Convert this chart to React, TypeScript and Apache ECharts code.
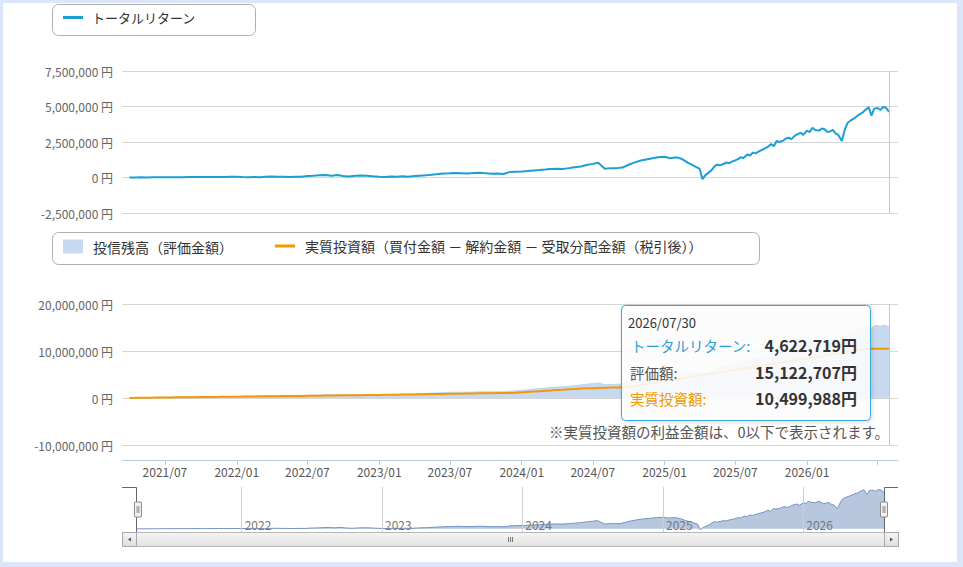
import React, { useEffect, useRef } from 'react';
import * as echarts from 'echarts';

const dates = [
  '2021-04-01','2021-04-15','2021-05-01','2021-05-15','2021-06-01','2021-06-15','2021-07-01','2021-07-15','2021-08-01','2021-08-15','2021-09-01','2021-09-15','2021-10-01','2021-10-15','2021-11-01','2021-11-15','2021-12-01','2021-12-15',
  '2022-01-01','2022-01-15','2022-02-01','2022-02-15','2022-03-01','2022-03-15','2022-04-01','2022-04-15','2022-05-01','2022-05-15','2022-06-01','2022-06-15','2022-07-01','2022-07-15','2022-08-01','2022-08-15','2022-09-01','2022-09-15','2022-10-01','2022-10-15','2022-11-01','2022-11-15','2022-12-01','2022-12-15',
  '2023-01-01','2023-01-15','2023-02-01','2023-02-15','2023-03-01','2023-03-15','2023-04-01','2023-04-15','2023-05-01','2023-05-15','2023-06-01','2023-06-15','2023-07-01','2023-07-15','2023-08-01','2023-08-15','2023-09-01','2023-09-15','2023-10-01','2023-10-15','2023-11-01','2023-11-15','2023-12-01','2023-12-15',
  '2024-01-01','2024-01-15','2024-02-01','2024-02-15','2024-03-01','2024-03-15','2024-04-01','2024-04-15','2024-05-01','2024-05-15','2024-06-01','2024-06-15','2024-07-01','2024-07-15','2024-08-01','2024-08-15','2024-09-01','2024-09-15','2024-10-01','2024-10-15','2024-11-01','2024-11-15','2024-12-01','2024-12-15',
  '2025-01-01','2025-01-15','2025-02-01','2025-02-15','2025-03-01','2025-03-15','2025-04-01','2025-04-08','2025-04-15',
  '2025-05-01','2025-05-08','2025-05-15','2025-05-22','2025-06-01','2025-06-08','2025-06-15','2025-06-22','2025-07-01','2025-07-08','2025-07-15','2025-07-22','2025-08-01','2025-08-08','2025-08-15','2025-08-22',
  '2025-09-01','2025-09-08','2025-09-15','2025-09-22','2025-10-01','2025-10-08','2025-10-15','2025-10-22','2025-11-01','2025-11-08','2025-11-15','2025-11-22','2025-12-01','2025-12-08','2025-12-15','2025-12-22',
  '2026-01-01','2026-01-08','2026-01-15','2026-01-22','2026-02-01','2026-02-08','2026-02-15','2026-02-22','2026-03-01','2026-03-08','2026-03-15','2026-03-22','2026-03-31',
  '2026-04-08','2026-04-15','2026-04-22','2026-05-01','2026-05-08','2026-05-15','2026-05-22','2026-06-01','2026-06-08','2026-06-15','2026-06-22','2026-07-01','2026-07-08','2026-07-15','2026-07-22','2026-07-30'
];

// トータルリターン (百万円)
const totalReturnM = [
  0, 0.005, 0.01, 0.008, 0.015, 0.02, 0.018, 0.022, 0.025, 0.02, 0.03, 0.035, 0.028, 0.032, 0.04, 0.038, 0.035, 0.045,
  0.05, 0.03, 0.02, 0.03, 0.025, 0.05, 0.07, 0.06, 0.05, 0.04, 0.06, 0.05, 0.1, 0.12, 0.15, 0.17, 0.13, 0.18, 0.1, 0.07, 0.12, 0.14, 0.12, 0.08,
  0.05, 0.04, 0.07, 0.05, 0.08, 0.06, 0.1, 0.13, 0.15, 0.2, 0.24, 0.28, 0.3, 0.32, 0.3, 0.28, 0.31, 0.33, 0.3, 0.27, 0.29, 0.25, 0.38, 0.4,
  0.42, 0.45, 0.5, 0.52, 0.56, 0.6, 0.62, 0.6, 0.66, 0.72, 0.78, 0.88, 0.96, 1.04, 0.62, 0.66, 0.66, 0.7, 0.9, 1.05, 1.2, 1.27, 1.35, 1.42,
  1.46, 1.36, 1.42, 1.3, 1.05, 0.85, 0.6, -0.12, 0.15,
  0.5, 0.75, 0.92, 0.85, 0.95, 1.05, 1.0, 1.12, 1.2, 1.3, 1.42, 1.38, 1.62, 1.55, 1.75, 1.7,
  1.85, 1.95, 2.05, 2.15, 2.35, 2.2, 2.57, 2.5, 2.6, 2.75, 2.8, 2.7, 2.95, 3.05, 3.15, 3.0,
  3.3, 3.2, 3.5, 3.35, 3.3, 3.45, 3.4, 3.2, 3.25, 3.35, 3.1, 3.0, 2.57,
  3.4, 3.85, 4.0, 4.15, 4.3, 4.45, 4.55, 4.8, 4.95, 4.35, 4.85, 4.9, 4.75, 4.97, 4.92, 4.622719
];

// 実質投資額 (百万円)
const investedM = [
  0.02, 0.03, 0.05, 0.07, 0.08, 0.1, 0.11, 0.12, 0.14, 0.15, 0.17, 0.18, 0.2, 0.21, 0.23, 0.24, 0.26, 0.27,
  0.29, 0.3, 0.32, 0.33, 0.35, 0.36, 0.38, 0.39, 0.41, 0.42, 0.44, 0.45, 0.47, 0.48, 0.5, 0.51, 0.53, 0.54, 0.56, 0.57, 0.59, 0.6, 0.62, 0.63,
  0.65, 0.67, 0.69, 0.71, 0.73, 0.75, 0.77, 0.79, 0.81, 0.83, 0.85, 0.87, 0.89, 0.91, 0.93, 0.95, 0.97, 0.99, 1.01, 1.03, 1.05, 1.07, 1.09, 1.11,
  1.2, 1.3, 1.4, 1.45, 1.55, 1.6, 1.7, 1.75, 1.85, 1.9, 2.0, 2.05, 2.1, 2.15, 2.2, 2.22, 2.26, 2.28, 2.3, 2.5, 2.75, 2.95, 3.15, 3.35,
  3.6, 3.8, 4.0, 4.2, 4.4, 4.6, 4.8, 4.85, 5.0,
  5.2, 5.3, 5.4, 5.5, 5.6, 5.7, 5.8, 5.9, 6.0, 6.1, 6.2, 6.3, 6.4, 6.5, 6.6, 6.7,
  6.8, 6.9, 7.0, 7.1, 7.2, 7.3, 7.4, 7.5, 7.6, 7.7, 7.8, 7.9, 8.0, 8.1, 8.2, 8.3,
  8.4, 8.5, 8.6, 8.7, 8.8, 8.9, 9.0, 9.1, 9.2, 9.3, 9.4, 9.5, 9.6,
  9.7, 9.8, 9.9, 10.0, 10.1, 10.2, 10.3, 10.4, 10.45, 10.5, 10.5, 10.5, 10.5, 10.5, 10.5, 10.499988
];

const topYTicks = { min: -2500000, max: 7500000, interval: 2500000 };
const bottomYTicks = { min: -10000000, max: 20000000, interval: 10000000 };
const axisRange = { min: '2021-03-13', max: '2026-08-22' };

const NAME_RETURN = 'トータルリターン';
const NAME_VALUE = '投信残高（評価金額）';
const NAME_INVEST = '実質投資額（買付金額 － 解約金額 － 受取分配金額（税引後））';
const NOTE = '※実質投資額の利益金額は、0以下で表示されます。';

const FONT = '"Noto Sans CJK JP", "Noto Sans", sans-serif';
const BLUE = '#1a9fd5';
const ORANGE = '#f39800';
const AREA = '#c6d9f1';
const DAY = 24 * 3600 * 1000;

function toTs(s: string) {
  const [y, m, d] = s.split('-').map(Number);
  return new Date(y, m - 1, d).getTime();
}
function yen(v: number) {
  return v.toLocaleString('en-US');
}

function buildOption() {
  const ret = totalReturnM.map((v) => Math.round(v * 1e6));
  const inv = investedM.map((v) => Math.round(v * 1e6));
  const val = ret.map((r, i) => r + inv[i]);
  const retData = dates.map((d, i) => [d, ret[i]]);
  const invData = dates.map((d, i) => [d, inv[i]]);
  const valData = dates.map((d, i) => [d, val[i]]);
  const n = dates.length - 1;
  const lastDate = dates[n];
  const lastTs = toTs(lastDate);

  const crossLine = {
    silent: true,
    symbol: 'none',
    label: { show: false },
    lineStyle: { color: '#c8c8c8', type: 'solid', width: 1 },
    emphasis: { disabled: true },
    data: [{ xAxis: lastDate }],
  };

  const yLabel = {
    color: '#666',
    fontSize: 12,
    margin: 9,
    formatter: (v: number) => yen(v) + ' 円',
  };
  const split = { show: true, lineStyle: { color: '#d6d6d6', width: 1 } };

  const gradient = (a: string, b: string) =>
    new echarts.graphic.LinearGradient(0, 0, 0, 1, [
      { offset: 0, color: a },
      { offset: 1, color: b },
    ]);

  const txt = (text: string, x: number, y: number, fill: string, size: number, align = 'left', weight = 'normal') => ({
    type: 'text',
    x,
    y,
    z: 60,
    silent: true,
    style: {
      text,
      fill,
      fontSize: size,
      fontFamily: FONT,
      fontWeight: weight,
      align,
      verticalAlign: 'middle',
    },
  });

  return {
    animation: false,
    backgroundColor: '#dce6fa',
    textStyle: { fontFamily: FONT },
    grid: [
      { left: 122, right: 65, top: 71, height: 142 },
      { left: 122, right: 65, top: 304, height: 141 },
      { left: 136, right: 79, top: 487, height: 45 },
    ],
    legend: [
      {
        left: 63, top: 11, padding: 0, itemWidth: 20, itemHeight: 3, icon: 'rect', selectedMode: false,
        data: [{ name: NAME_RETURN, itemStyle: { color: BLUE } }],
        textStyle: { fontSize: 13, color: '#333', padding: [0, 0, 0, 4] },
      },
      {
        left: 63, top: 239.5, padding: 0, itemWidth: 20, itemHeight: 14, icon: 'rect', selectedMode: false,
        data: [{ name: NAME_VALUE, itemStyle: { color: AREA } }],
        textStyle: { fontSize: 14, color: '#333', padding: [0, 0, 0, 5] },
      },
      {
        left: 275, top: 239, padding: 0, itemWidth: 20, itemHeight: 3, icon: 'rect', selectedMode: false,
        data: [{ name: NAME_INVEST, itemStyle: { color: ORANGE } }],
        textStyle: { fontSize: 14, color: '#333', padding: [0, 0, 0, 5] },
      },
    ],
    xAxis: [
      {
        type: 'time', gridIndex: 0, min: axisRange.min, max: axisRange.max,
        axisLine: { show: false }, axisTick: { show: false }, axisLabel: { show: false }, splitLine: { show: false },
      },
      {
        type: 'time', gridIndex: 1, min: axisRange.min, max: axisRange.max, offset: 15,
        minInterval: 181 * DAY, maxInterval: 184 * DAY,
        axisLine: { show: true, onZero: false, lineStyle: { color: '#b9cbe0' } },
        axisTick: { show: true, length: 5, lineStyle: { color: '#b9cbe0' } },
        splitLine: { show: false },
        axisLabel: {
          color: '#555', fontSize: 12, margin: 5, hideOverlap: false,
          formatter: (v: number) => {
            if (v + 40 * DAY > lastTs) return '';
            const d = new Date(v);
            const m = d.getMonth() + 1;
            return d.getFullYear() + '/' + (m < 10 ? '0' + m : m);
          },
        },
      },
      {
        type: 'time', gridIndex: 2, min: dates[0], max: lastDate, z: 10,
        minInterval: 365 * DAY, maxInterval: 366 * DAY,
        axisLine: { show: false, onZero: false }, axisTick: { show: false },
        splitLine: { show: true, lineStyle: { color: '#cfcfcf', width: 1 } },
        axisLabel: {
          inside: true, color: '#777', fontSize: 12, align: 'left', margin: 2, padding: [0, 0, 0, 3],
          formatter: (v: number) => String(new Date(v).getFullYear()),
        },
      },
    ],
    yAxis: [
      {
        type: 'value', gridIndex: 0, ...topYTicks,
        axisLine: { show: false }, axisTick: { show: false }, axisLabel: yLabel, splitLine: split,
      },
      {
        type: 'value', gridIndex: 1, ...bottomYTicks,
        axisLine: { show: false }, axisTick: { show: false }, axisLabel: yLabel, splitLine: split,
      },
      { type: 'value', gridIndex: 2, min: -400000, max: 5300000, show: false, splitLine: { show: false } },
    ],
    dataZoom: [
      {
        type: 'slider', xAxisIndex: [0, 1], filterMode: 'none', start: 0, end: 100,
        left: 136, right: 79, top: 487, height: 45, z: 40,
        showDataShadow: false, showDetail: false, brushSelect: false, moveHandleSize: 0,
        backgroundColor: 'rgba(0,0,0,0)', fillerColor: 'rgba(0,0,0,0)', borderColor: 'rgba(0,0,0,0)',
        handleIcon: 'path://M1,0 H6 Q7,0 7,1 V14 Q7,15 6,15 H1 Q0,15 0,14 V1 Q0,0 1,0 Z M2.6,4 V11 M4.4,4 V11',
        handleSize: 15,
        handleStyle: { color: '#f2f2f2', borderColor: '#888', borderWidth: 1 },
        emphasis: { handleStyle: { color: '#f2f2f2', borderColor: '#888' } },
      },
    ],
    series: [
      {
        name: NAME_RETURN, type: 'line', xAxisIndex: 0, yAxisIndex: 0, data: retData,
        symbol: 'none', color: BLUE, lineStyle: { color: BLUE, width: 2 }, markLine: crossLine,
      },
      {
        name: NAME_VALUE, type: 'line', xAxisIndex: 1, yAxisIndex: 1, data: valData,
        symbol: 'none', color: AREA, lineStyle: { color: '#bcd3ef', width: 1 },
        areaStyle: { color: AREA, opacity: 1 }, markLine: crossLine,
      },
      {
        name: NAME_INVEST, type: 'line', xAxisIndex: 1, yAxisIndex: 1, data: invData,
        symbol: 'none', color: ORANGE, lineStyle: { color: ORANGE, width: 2 },
      },
      {
        name: 'navigator', type: 'line', xAxisIndex: 2, yAxisIndex: 2, data: retData, silent: true,
        symbol: 'none', color: '#7393c3', lineStyle: { color: '#7393c3', width: 1 },
        areaStyle: { color: '#b6c7de', opacity: 1 },
      },
    ],
    graphic: [
      { type: 'rect', z: -100, silent: true, shape: { x: 3, y: 3, width: 954, height: 559 }, style: { fill: '#fff' } },
      { type: 'rect', z: 1, silent: true, shape: { x: 52.5, y: 4.5, width: 203, height: 31, r: 6 }, style: { fill: '#fff', stroke: '#b0b0b0', lineWidth: 1 } },
      { type: 'rect', z: 1, silent: true, shape: { x: 52.5, y: 232.5, width: 707, height: 32, r: 6 }, style: { fill: '#fff', stroke: '#b0b0b0', lineWidth: 1 } },
      // tooltip
      {
        type: 'rect', z: 55, silent: true,
        shape: { x: 621.5, y: 305.5, width: 249, height: 115, r: 4 },
        style: { fill: 'rgba(255,255,255,0.86)', stroke: '#3aa8da', lineWidth: 1, shadowBlur: 4, shadowColor: 'rgba(0,0,0,0.18)', shadowOffsetX: 1, shadowOffsetY: 1 },
      },
      txt(lastDate.replace(/-/g, '/'), 628, 322, '#333', 13),
      txt(NAME_RETURN + ':', 631, 345, '#2ba0d6', 14.5),
      txt(yen(ret[n]) + '円', 857, 345, '#333', 16, 'right', 'bold'),
      txt('評価額:', 630, 372, '#555', 14.5),
      txt(yen(val[n]) + '円', 857, 372, '#333', 16, 'right', 'bold'),
      txt('実質投資額:', 630, 398, ORANGE, 14.5),
      txt(yen(inv[n]) + '円', 857, 398, '#333', 16, 'right', 'bold'),
      txt(NOTE, 889, 431, '#555', 14.5, 'right'),
      // navigator outline
      { type: 'polyline', z: 30, silent: true, shape: { points: [[122, 487.5], [136.5, 487.5], [136.5, 532]] }, style: { stroke: '#666', lineWidth: 1, fill: 'none' } },
      { type: 'polyline', z: 30, silent: true, shape: { points: [[884.5, 532], [884.5, 487.5], [898, 487.5]] }, style: { stroke: '#666', lineWidth: 1, fill: 'none' } },
      // scrollbar
      { type: 'rect', z: 30, silent: true, shape: { x: 122.5, y: 532.5, width: 776, height: 14 }, style: { fill: gradient('#f6f6f6', '#dedede'), stroke: '#b8b8b8', lineWidth: 1 } },
      { type: 'rect', z: 31, silent: true, shape: { x: 136.5, y: 532.5, width: 748, height: 14 }, style: { fill: gradient('#f4f4f4', '#e2e2e2'), stroke: '#b8b8b8', lineWidth: 1 } },
      { type: 'rect', z: 31, silent: true, shape: { x: 122.5, y: 532.5, width: 14, height: 14 }, style: { fill: gradient('#f6f6f6', '#dcdcdc'), stroke: '#a8a8a8', lineWidth: 1 } },
      { type: 'rect', z: 31, silent: true, shape: { x: 884.5, y: 532.5, width: 14, height: 14 }, style: { fill: gradient('#f6f6f6', '#dcdcdc'), stroke: '#a8a8a8', lineWidth: 1 } },
      { type: 'polygon', z: 32, silent: true, shape: { points: [[128, 539.5], [131, 537.5], [131, 541.5]] }, style: { fill: '#555' } },
      { type: 'polygon', z: 32, silent: true, shape: { points: [[893, 539.5], [890, 537.5], [890, 541.5]] }, style: { fill: '#555' } },
      { type: 'line', z: 32, silent: true, shape: { x1: 508.5, y1: 537, x2: 508.5, y2: 542 }, style: { stroke: '#777', lineWidth: 1 } },
      { type: 'line', z: 32, silent: true, shape: { x1: 510.5, y1: 537, x2: 510.5, y2: 542 }, style: { stroke: '#777', lineWidth: 1 } },
      { type: 'line', z: 32, silent: true, shape: { x1: 512.5, y1: 537, x2: 512.5, y2: 542 }, style: { stroke: '#777', lineWidth: 1 } },
    ],
  };
}

export default function App() {
  const ref = useRef<HTMLDivElement>(null);
  useEffect(() => {
    if (!ref.current) return;
    const chart = echarts.init(ref.current, undefined, { renderer: 'svg' });
    chart.setOption(buildOption() as any);
    return () => chart.dispose();
  }, []);
  return <div ref={ref} style={{ position: 'absolute', left: 0, top: 0, width: 963, height: 567 }} />;
}
